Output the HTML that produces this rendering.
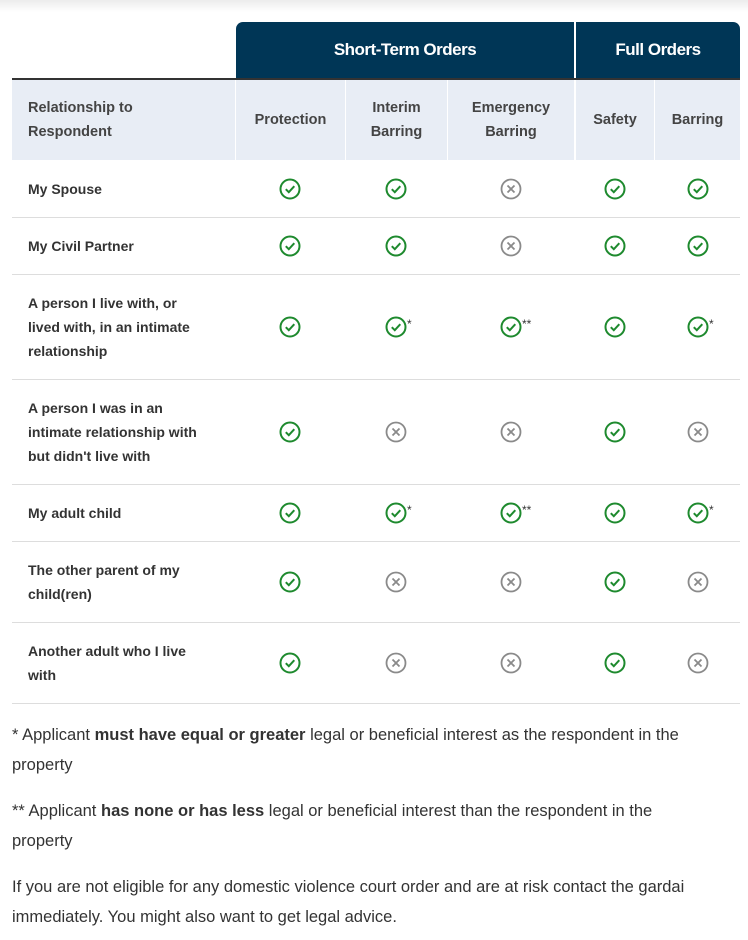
<!DOCTYPE html>
<html><head><style>
body{margin:0;background:#fff;font-family:"Liberation Sans",sans-serif;color:#333;width:748px;height:940px;overflow:hidden;position:relative}
.shadow{position:absolute;left:0;top:0;width:748px;height:12px;background:linear-gradient(#ececec,#fff)}
.a{position:absolute}
.hd{background:#003656;color:#fff;font-weight:bold;font-size:17px;display:flex;align-items:center;justify-content:center;top:22px;height:56px;letter-spacing:-0.5px}
.sub{position:absolute;top:80px;height:80px;background:#e8edf5;display:flex;align-items:center;font-size:14.5px;font-weight:bold;color:#444;line-height:24px}
.c{justify-content:center;text-align:center}
.row{position:absolute;left:12px;width:728px;border-bottom:1px solid #ddd}
.lab{position:absolute;left:16px;font-size:14px;font-weight:bold;color:#333;line-height:24px;display:flex;align-items:center;height:100%;width:205px;white-space:nowrap}
.ic{position:absolute;top:50%;margin-top:-11px;width:22px;height:22px}
.st{position:absolute;top:50%;margin-top:-10px;font-size:12px;color:#333}
p{position:absolute;left:12px;margin:0;width:705px;font-size:16.5px;line-height:30px;color:#333}
</style></head><body>
<div class="shadow"></div>
<div class="a hd" style="left:236px;width:338px;border-radius:7px 0 0 0">Short-Term Orders</div>
<div class="a hd" style="left:576px;width:164px;border-radius:0 7px 0 0">Full Orders</div>
<div class="a" style="left:12px;top:78px;width:728px;height:2px;background:#333"></div>
<div class="sub" style="left:12px;width:223px;padding-left:16px;box-sizing:border-box">Relationship to<br>Respondent</div>
<div class="sub c" style="left:236px;width:109px">Protection</div>
<div class="sub c" style="left:346px;width:101px">Interim<br>Barring</div>
<div class="sub c" style="left:448px;width:126px">Emergency<br>Barring</div>
<div class="sub c" style="left:576px;width:78px">Safety</div>
<div class="sub c" style="left:655px;width:85px">Barring</div>
<svg width="0" height="0" style="position:absolute"><defs>
<symbol id="y" viewBox="0 0 22 22"><circle cx="11" cy="11" r="9.5" fill="none" stroke="#1e8a2e" stroke-width="2"/><path d="M6.8 11.2l3 3 5.5-6" fill="none" stroke="#1e8a2e" stroke-width="2"/></symbol>
<symbol id="n" viewBox="0 0 22 22"><circle cx="11" cy="11" r="9.5" fill="none" stroke="#8a8a8a" stroke-width="1.8"/><path d="M7.5 7.5l7 7M14.5 7.5l-7 7" stroke="#8a8a8a" stroke-width="1.8"/></symbol>
</defs></svg>
<div id="rows"></div>
<script>
var rows=[[160,58,"My Spouse","yynyy"],[218,57,"My Civil Partner","yynyy"],[275,105,"A person I live with, or<br>lived with, in an intimate<br>relationship","y12y1"],[380,105,"A person I was in an<br>intimate relationship with<br>but didn't live with","ynnyn"],[485,57,"My adult child","y12y1"],[542,81,"The other parent of my<br>child(ren)","ynnyn"],[623,81,"Another adult who I live<br>with","ynnyn"]];
var cx=[290,396,511,615,698],h="";
rows.forEach(function(r){var s=r[3];h+='<div class="row" style="top:'+r[0]+'px;height:'+(r[1]-1)+'px"><div class="lab"><div>'+r[2]+'</div></div>';
for(var i=0;i<5;i++){var k=s[i],t=(k=="n")?"n":"y";h+='<svg class="ic" style="left:'+(cx[i]-12-11)+'px"><use href="#'+t+'"/></svg>';if(k=="1")h+='<span class="st" style="left:'+(cx[i]-12+11)+'px">*</span>';if(k=="2")h+='<span class="st" style="left:'+(cx[i]-12+11)+'px">**</span>';}
h+='</div>';});
document.getElementById("rows").innerHTML=h;
</script>
<p style="top:720px">* Applicant <b>must have equal or greater</b> legal or beneficial interest as the respondent in the property</p>
<p style="top:796px">** Applicant <b>has none or has less</b> legal or beneficial interest than the respondent in the property</p>
<p style="top:872px">If you are not eligible for any domestic violence court order and are at risk contact the gardai immediately. You might also want to get legal advice.</p>
</body></html>
